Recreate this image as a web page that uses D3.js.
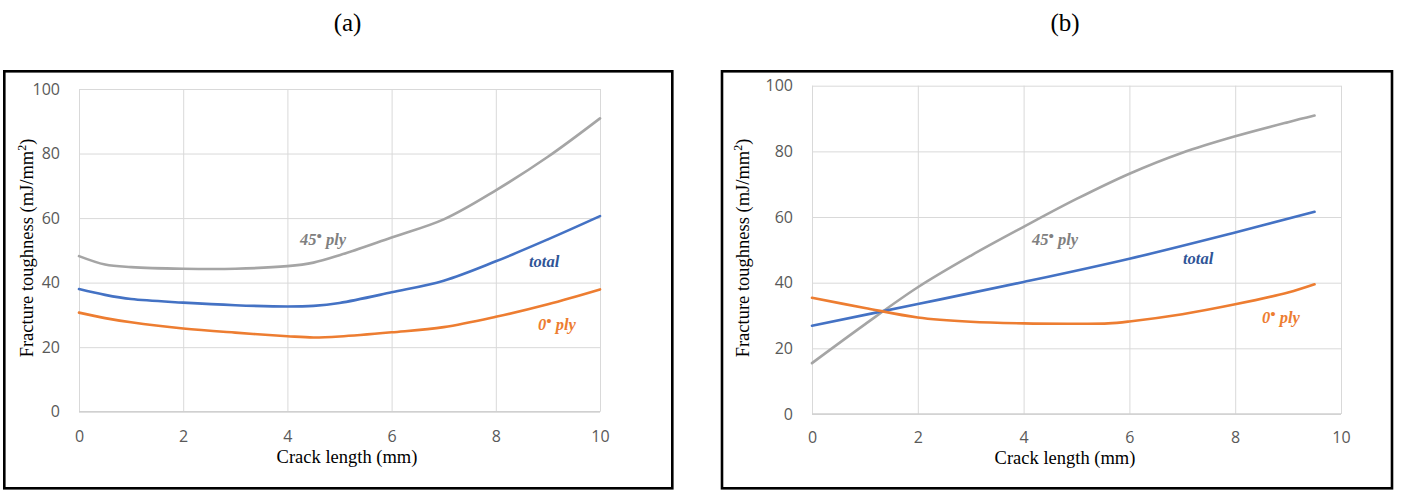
<!DOCTYPE html>
<html>
<head>
<meta charset="utf-8">
<script src="https://cdn.jsdelivr.net/npm/d3@7"></script>
<style>
  html, body { margin: 0; padding: 0; background: #fff; }
  svg { display: block; }
</style>
</head>
<body>
<svg id="chart" width="1402" height="490"></svg>
<script>
// ---------- DATA ----------
const xTicks = [0, 2, 4, 6, 8, 10];
const yTicks = [0, 20, 40, 60, 80, 100];
const panelTitles = ["(a)", "(b)"];
const xAxisTitle = "Crack length (mm)";
const yAxisTitle = "Fracture toughness (mJ/mm";

// Panel (a)
const a_x45   = [0, 0.5, 1, 2, 3, 4, 4.5, 5, 6, 7, 8, 9, 10];
const a_y45   = [48.2, 45.6, 44.8, 44.3, 44.3, 45.1, 46.2, 48.5, 54.0, 59.6, 68.6, 79.0, 90.9];
const a_xTot  = [0, 0.5, 1, 2, 3, 4, 4.5, 5, 6, 7, 8, 9, 10];
const a_yTot  = [38.0, 36.2, 34.9, 33.8, 33.0, 32.6, 32.8, 33.7, 37.0, 40.6, 46.6, 53.4, 60.6];
const a_x0    = [0, 0.5, 1, 2, 3, 4, 4.5, 5, 6, 7, 8, 9, 10];
const a_y0    = [30.7, 29.0, 27.7, 25.8, 24.5, 23.4, 23.0, 23.3, 24.6, 26.2, 29.4, 33.3, 37.9];

// Panel (b)
const b_x45   = [0, 1, 2, 3, 4, 5, 6, 7, 8, 9, 9.5];
const b_y45   = [15.5, 27.3, 38.6, 48.2, 57.0, 65.5, 73.2, 79.6, 84.6, 88.9, 90.9];
const b_xTot  = [0, 2, 4, 6, 8, 9.5];
const b_yTot  = [26.9, 33.5, 40.2, 47.3, 55.3, 61.6];
const b_x0    = [0, 1, 2, 3, 4, 5, 5.6, 6, 7, 8, 9, 9.5];
const b_y0    = [35.4, 32.3, 29.4, 28.1, 27.6, 27.5, 27.6, 28.2, 30.4, 33.4, 37.0, 39.5];

const seriesNames = ["45", "total", "0"];

// ---------- STYLE / LAYOUT ----------
const colors = { "45": "#A5A5A5", "total": "#4472C4", "0": "#ED7D31" };
const labelColors = { "45": "#808080", "total": "#2F5597", "0": "#ED7D31" };

const panels = [
  {
    frame: [4.3, 71.3, 672.3, 488.3],
    plot: { left: 79, right: 600, top: 89, bottom: 411.7 },
    title: { x: 347.5, y: 31 },
    xTitle: { x: 347, y: 462.5 },
    yTitle: { x: 33, y: 248 },
    xTickY: 442.5,
    series: [
      { key: "45", xs: a_x45, ys: a_y45 },
      { key: "total", xs: a_xTot, ys: a_yTot },
      { key: "0", xs: a_x0, ys: a_y0 }
    ],
    labels: [
      { key: "45", x: 300, y: 245 },
      { key: "total", x: 529, y: 267 },
      { key: "0", x: 538, y: 330 }
    ]
  },
  {
    frame: [722, 71.3, 1392, 488.3],
    plot: { left: 812, right: 1341, top: 85.7, bottom: 414 },
    title: { x: 1065, y: 31 },
    xTitle: { x: 1065, y: 463.5 },
    yTitle: { x: 749, y: 248 },
    xTickY: 442.5,
    series: [
      { key: "45", xs: b_x45, ys: b_y45 },
      { key: "total", xs: b_xTot, ys: b_yTot },
      { key: "0", xs: b_x0, ys: b_y0 }
    ],
    labels: [
      { key: "45", x: 1032, y: 245 },
      { key: "total", x: 1183, y: 264 },
      { key: "0", x: 1262, y: 323 }
    ]
  }
];

const svg = d3.select("#chart");
svg.append("rect").attr("width", 1402).attr("height", 490).attr("fill", "#fff");

// panel titles
panels.forEach((p, i) => {
  svg.append("text")
    .attr("x", p.title.x).attr("y", p.title.y)
    .attr("text-anchor", "middle")
    .attr("font-family", "'Liberation Serif', 'Times New Roman', serif")
    .attr("font-size", 25)
    .attr("fill", "#000")
    .text(panelTitles[i]);
});

panels.forEach(p => {
  const g = svg.append("g");
  const x = d3.scaleLinear().domain([0, 10]).range([p.plot.left, p.plot.right]);
  const y = d3.scaleLinear().domain([0, 100]).range([p.plot.bottom, p.plot.top]);

  // frame
  g.append("rect")
    .attr("x", p.frame[0]).attr("y", p.frame[1])
    .attr("width", p.frame[2] - p.frame[0]).attr("height", p.frame[3] - p.frame[1])
    .attr("fill", "none").attr("stroke", "#000").attr("stroke-width", 2.6);

  // gridlines via axes
  const gy = g.append("g").attr("transform", `translate(${p.plot.left},0)`)
    .call(d3.axisLeft(y).tickValues(yTicks).tickSize(-(p.plot.right - p.plot.left)).tickFormat(d3.format("d")).tickPadding(19));
  gy.select(".domain").remove();
  gy.attr("font-size", 16);
  gy.selectAll(".tick line").attr("stroke", "#D9D9D9").attr("stroke-width", 1);
  gy.selectAll(".tick text")
    .attr("font-family", "'Open Sans', 'Liberation Sans', sans-serif")
    .attr("font-size", 16).attr("fill", "#595959");

  const gx = g.append("g").attr("transform", `translate(0,${p.plot.bottom})`)
    .call(d3.axisBottom(x).tickValues(xTicks).tickSize(-(p.plot.bottom - p.plot.top)).tickFormat(d3.format("d")).tickPadding(0));
  gx.select(".domain").remove();
  gx.attr("font-size", 16);
  gx.selectAll(".tick line").attr("stroke", "#D9D9D9").attr("stroke-width", 1);
  gx.selectAll(".tick text")
    .attr("font-family", "'Open Sans', 'Liberation Sans', sans-serif")
    .attr("font-size", 16).attr("fill", "#595959")
    .attr("dy", null)
    .attr("y", p.xTickY - p.plot.bottom);

  // axis line at bottom (slightly stronger)
  g.append("line")
    .attr("x1", p.plot.left).attr("x2", p.plot.right)
    .attr("y1", y(0)).attr("y2", y(0))
    .attr("stroke", "#D0D0D0").attr("stroke-width", 1.3);

  // lines
  const line = d3.line().curve(d3.curveCatmullRom.alpha(0.5));
  p.series.forEach(s => {
    const pts = s.xs.map((xv, i) => [x(xv), y(s.ys[i])]);
    g.append("path")
      .attr("d", line(pts))
      .attr("fill", "none")
      .attr("stroke", colors[s.key])
      .attr("stroke-width", 2.6)
      .attr("stroke-linejoin", "round")
      .attr("stroke-linecap", "round");
  });

  // series labels
  p.labels.forEach(l => {
    const t = g.append("text")
      .attr("x", l.x).attr("y", l.y)
      .attr("font-family", "'Liberation Serif', 'Times New Roman', serif")
      .attr("font-style", "italic")
      .attr("font-weight", "bold")
      .attr("font-size", 16.5)
      .attr("fill", labelColors[l.key]);
    if (l.key === "total") {
      t.text("total");
    } else {
      t.append("tspan").text(l.key);
      t.append("tspan").attr("dy", -4).attr("font-size", 15).text("•");
      t.append("tspan").attr("dy", 4).text(" ply");
    }
  });

  // axis titles
  g.append("text")
    .attr("x", p.xTitle.x).attr("y", p.xTitle.y)
    .attr("text-anchor", "middle")
    .attr("font-family", "'Liberation Serif', 'Times New Roman', serif")
    .attr("font-size", 18.5).attr("fill", "#000")
    .text(xAxisTitle);

  const yt = g.append("text")
    .attr("transform", `translate(${p.yTitle.x},${p.yTitle.y}) rotate(-90)`)
    .attr("text-anchor", "middle")
    .attr("font-family", "'Liberation Serif', 'Times New Roman', serif")
    .attr("font-size", 18.5).attr("fill", "#000");
  yt.append("tspan").text(yAxisTitle);
  yt.append("tspan").attr("dy", -7).attr("font-size", 12).text("2");
  yt.append("tspan").attr("dy", 7).text(")");
});
</script>
</body>
</html>
